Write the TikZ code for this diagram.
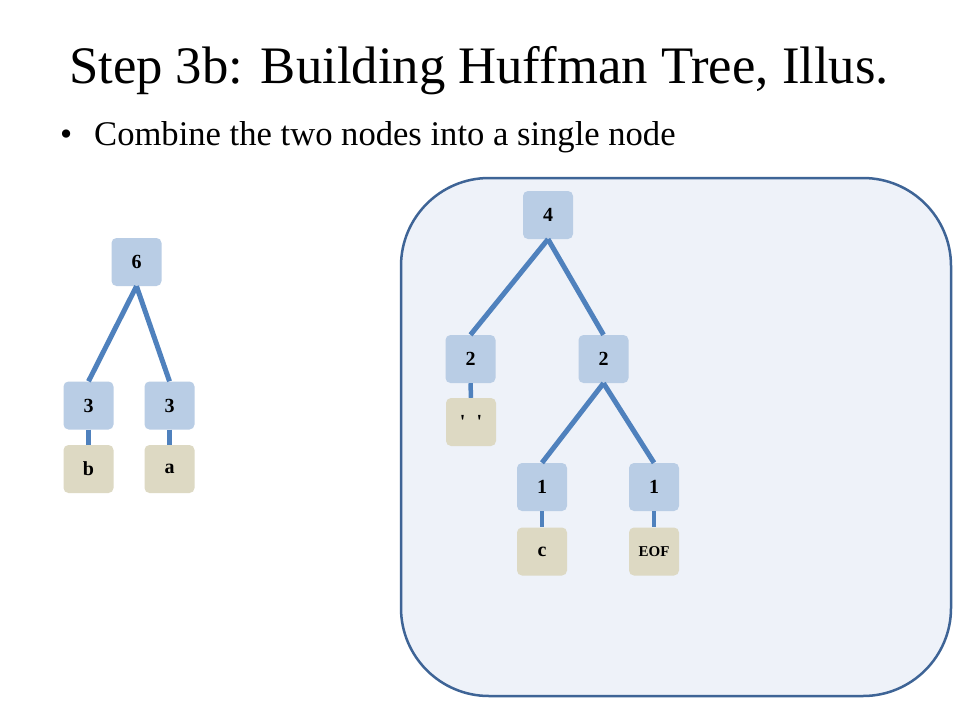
\documentclass[tikz,border=0pt]{standalone}
\usepackage{fontspec}
\setmainfont{Liberation Serif}
\definecolor{nodeblue}{HTML}{B9CDE5}
\definecolor{leaftan}{HTML}{DDD9C3}
\definecolor{edgeblue}{HTML}{4F81BD}
\definecolor{panelfill}{HTML}{EEF2F9}
\definecolor{paneldraw}{HTML}{3E6496}
\begin{document}
\begin{tikzpicture}[x=1pt,y=-1pt,
  inode/.style={rectangle,rounded corners=5pt,fill=nodeblue,minimum width=50pt,minimum height=48pt,inner sep=0pt,font=\fontsize{20}{20}\selectfont\bfseries},
  leaf/.style={rectangle,rounded corners=5pt,fill=leaftan,minimum width=50pt,minimum height=48pt,inner sep=0pt,font=\fontsize{20}{20}\selectfont\bfseries},
  branch/.style={draw=edgeblue,line width=5pt},
  stem/.style={draw=edgeblue,line width=4.5pt}]
\useasboundingbox (0,0) rectangle (960,720);
\fill[white] (0,0) rectangle (960,720);
% title
\node[anchor=base,inner sep=0pt,font=\fontsize{52.7}{53}\selectfont] (title) at (479,83) {Step 3b: Building Huffman Tree, Illus.};
\node[anchor=base west,inner sep=0pt,font=\fontsize{34.6}{35}\selectfont] (bul) at (60,145) {\textbullet};
\node[anchor=base west,inner sep=0pt,font=\fontsize{34.6}{35}\selectfont] (txt) at (94,145) {Combine the two nodes into a single node};
% panel
\draw[draw=paneldraw,fill=panelfill,line width=2.5pt,rounded corners=88pt] (401,178) rectangle (951,696);
% left tree
\node[inode] (L6) at (136.5,262) {6};
\node[inode] (L3a) at (88.5,405.5) {3};
\node[inode] (L3b) at (169.5,405.5) {3};
\node[leaf] (Lb) at (88.5,469) {b};
\node[leaf] (La) at (169.5,469) {a};
\draw[branch] (L6.south) -- (L3a.north);
\draw[branch] (L6.south) -- (L3b.north);
\draw[stem] (L3a.south) -- (Lb.north);
\draw[stem] (L3b.south) -- (La.north);
% right tree
\node[inode] (R4) at (548,215) {4};
\node[inode] (R2a) at (470.5,359) {2};
\node[inode] (R2b) at (603.5,359) {2};
\node[leaf] (Rsp) at (471,422) {\textquotesingle\hspace{11pt}\textquotesingle};
\node[inode] (R1a) at (542,487) {1};
\node[inode] (R1b) at (654,487) {1};
\node[leaf] (Rc) at (542,551.5) {c};
\node[leaf,font=\fontsize{15}{15}\selectfont\bfseries] (Reof) at (654,551.5) {EOF};
\draw[branch] (R4.south) -- (R2a.north);
\draw[branch] (R4.south) -- (R2b.north);
\draw[stem] (R2a.south) -- (Rsp.north);
\draw[branch] (R2b.south) -- (R1a.north);
\draw[branch] (R2b.south) -- (R1b.north);
\draw[stem] (R1a.south) -- (Rc.north);
\draw[stem] (R1b.south) -- (Reof.north);
\end{tikzpicture}
\end{document}
